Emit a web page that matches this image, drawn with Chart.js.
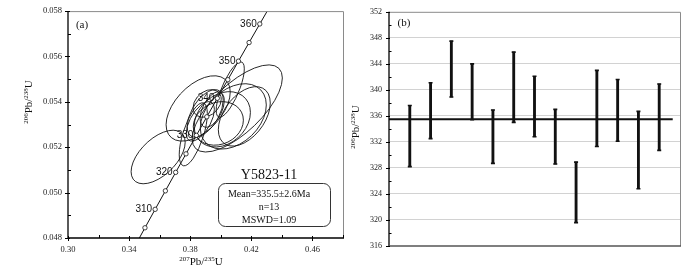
<!DOCTYPE html>
<html>
<head>
<meta charset="utf-8">
<script src="https://cdn.jsdelivr.net/npm/chart.js@4.4.1/dist/chart.umd.min.js"></script>
<style>
  body { margin: 0; background: #fff; }
  #wrap { position: relative; width: 700px; height: 268px; }
  canvas { position: absolute; top: 0; }
  #concordia { left: 0; }
  #ages { left: 350px; }
</style>
</head>
<body>
<div id="wrap">
  <canvas id="concordia" width="350" height="268"></canvas>
  <canvas id="ages" width="350" height="268"></canvas>
</div>
<script>
// (a) concordia curve, points every 5 Ma
const concAges = [300, 305, 310, 315, 320, 325, 330, 335, 340, 345, 350, 355, 360, 365];
const concX = [0.34374, 0.35037, 0.35704, 0.36374, 0.37047, 0.37723, 0.38403, 0.39086, 0.39773, 0.40463, 0.41156, 0.41853, 0.42553, 0.43257];
const concY = [0.047637, 0.048450, 0.049264, 0.050078, 0.050893, 0.051708, 0.052524, 0.053341, 0.054158, 0.054976, 0.055794, 0.056614, 0.057433, 0.058254];
const concLabelAges = [310, 320, 330, 340, 350, 360];

// (a) analysed spots: 207Pb/235U, 206Pb/238U, errors and error correlation
const spotX   = [0.3590, 0.3852, 0.4108, 0.4062, 0.4082, 0.4010, 0.3898, 0.3866, 0.3944, 0.3820, 0.3984, 0.3911, 0.4154];
const spotSX  = [0.0177, 0.0210, 0.0295, 0.0092, 0.0216, 0.0184, 0.0118, 0.0092, 0.0079, 0.0092, 0.0164, 0.0092, 0.0170];
const spotY   = [0.05157, 0.05371, 0.05371, 0.05454, 0.05336, 0.05323, 0.05349, 0.05314, 0.05366, 0.05257, 0.05305, 0.05393, 0.05336];
const spotSY  = [0.00118, 0.00144, 0.00192, 0.00122, 0.00144, 0.00122, 0.00105, 0.00087, 0.00078, 0.00139, 0.00096, 0.00061, 0.00131];
const spotRho = [0.55, 0.5, 0.7, 0.75, 0.35, 0.25, 0.55, 0.6, 0.5, 0.65, 0.15, 0.3, 0.45];

const xTicksA = [0.30, 0.32, 0.34, 0.36, 0.38, 0.40, 0.42, 0.44, 0.46, 0.48];
const xTickLabelsA = ['0.30', '', '0.34', '', '0.38', '', '0.42', '', '0.46', ''];
const yTicksA = [0.048, 0.049, 0.050, 0.051, 0.052, 0.053, 0.054, 0.055, 0.056, 0.057, 0.058];
const yTickLabelsA = ['0.048', '', '0.050', '', '0.052', '', '0.054', '', '0.056', '', '0.058'];

const sampleName = 'Y5823-11';
const resultLines = ['Mean=335.5\u00b12.6Ma', 'n=13', 'MSWD=1.09'];

// (b) 206Pb/238U ages, 1 sigma ranges
const spotNo  = [1, 2, 3, 4, 5, 6, 7, 8, 9, 10, 11, 12, 13];
const ageHigh = [337.6, 341.1, 347.5, 344.0, 336.9, 345.8, 342.1, 337.0, 328.9, 343.0, 341.6, 336.7, 340.9];
const ageLow  = [328.2, 332.5, 338.9, 335.4, 328.7, 335.0, 332.8, 328.6, 319.6, 331.3, 332.1, 324.8, 330.7];
const meanAge = 335.5;
const meanSpan = [0, 13.65];

const yTicksB = [316, 318, 320, 322, 324, 326, 328, 330, 332, 334, 336, 338, 340, 342, 344, 346, 348, 350, 352];
const yTickLabelsB = ['316', '', '320', '', '324', '', '328', '', '332', '', '336', '', '340', '', '344', '', '348', '', '352'];

const serif = '"Liberation Serif", "Times New Roman", serif';
const sans = '"Liberation Sans", Arial, sans-serif';

// text with raised small numbers, e.g. 206Pb/238U
function drawRich(ctx, parts, x, y, angle) {
  ctx.save();
  ctx.translate(x, y);
  ctx.rotate(angle);
  ctx.fillStyle = '#111';
  ctx.textBaseline = 'alphabetic';
  const big = '11px ' + serif, small = '7px ' + serif;
  let w = 0;
  parts.forEach(p => { ctx.font = p[1] ? small : big; w += ctx.measureText(p[0]).width; });
  let cx = -w / 2;
  parts.forEach(p => {
    ctx.font = p[1] ? small : big;
    ctx.fillText(p[0], cx, p[1] ? 0 : 4);
    cx += ctx.measureText(p[0]).width;
  });
  ctx.restore();
}

function frame(ctx, a, bottomColor) {
  ctx.save();
  ctx.lineWidth = 1;
  ctx.strokeStyle = '#8a8a8a';
  ctx.beginPath();
  ctx.moveTo(a.left, a.top + 0.5); ctx.lineTo(a.right + 0.5, a.top + 0.5); ctx.lineTo(a.right + 0.5, a.bottom);
  ctx.stroke();
  ctx.lineWidth = 1.3;
  ctx.strokeStyle = '#000';
  ctx.beginPath();
  ctx.moveTo(a.left, a.top); ctx.lineTo(a.left, a.bottom);
  ctx.stroke();
  ctx.strokeStyle = bottomColor;
  ctx.beginPath();
  ctx.moveTo(a.left, a.bottom); ctx.lineTo(a.right + 1, a.bottom);
  ctx.stroke();
  ctx.restore();
}

const concordiaDecor = {
  id: 'concordiaDecor',
  beforeDatasetsDraw(chart) {
    const { ctx, chartArea: a, scales: { x, y } } = chart;
    ctx.save();
    ctx.font = '10px ' + sans;
    ctx.fillStyle = '#111';
    ctx.textAlign = 'right';
    ctx.textBaseline = 'middle';
    concLabelAges.forEach(age => {
      const i = concAges.indexOf(age);
      ctx.fillText(String(age), x.getPixelForValue(concX[i]) - 3, y.getPixelForValue(concY[i]));
    });
    ctx.beginPath();
    ctx.rect(a.left, a.top, a.right - a.left, a.bottom - a.top);
    ctx.clip();
    ctx.strokeStyle = '#111';
    ctx.lineWidth = 0.9;
    spotX.forEach((v, i) => {
      const px = x.getPixelForValue(v), py = y.getPixelForValue(spotY[i]);
      const kx = x.getPixelForValue(v + spotSX[i]) - px;
      const ky = py - y.getPixelForValue(spotY[i] + spotSY[i]);
      const r = spotRho[i];
      ctx.save();
      ctx.translate(px, py);
      ctx.transform(kx, -ky * r, 0, -ky * Math.sqrt(1 - r * r), 0, 0);
      ctx.beginPath();
      ctx.arc(0, 0, 1, 0, Math.PI * 2);
      ctx.restore();
      ctx.stroke();
    });
    ctx.restore();
  },
  afterDraw(chart) {
    const { ctx, chartArea: a, scales: { x, y } } = chart;
    frame(ctx, a, '#000');
    ctx.save();
    ctx.strokeStyle = '#000';
    ctx.lineWidth = 1;
    y.ticks.forEach((t, i) => {
      const py = Math.round(y.getPixelForValue(t.value)) + 0.5;
      ctx.beginPath();
      if (i % 2 === 0) { ctx.moveTo(a.left - 3, py); ctx.lineTo(a.left + 2, py); }
      else { ctx.moveTo(a.left, py); ctx.lineTo(a.left + 3, py); }
      ctx.stroke();
    });
    x.ticks.forEach((t, i) => {
      const px = Math.round(x.getPixelForValue(t.value)) + 0.5;
      ctx.beginPath();
      if (i % 2 === 0) { ctx.moveTo(px, a.bottom - 2); ctx.lineTo(px, a.bottom + 3); }
      else { ctx.moveTo(px, a.bottom - 3); ctx.lineTo(px, a.bottom); }
      ctx.stroke();
    });
    // panel letter, sample name and result box
    ctx.fillStyle = '#111';
    ctx.textAlign = 'center';
    ctx.textBaseline = 'middle';
    ctx.font = '11px ' + serif;
    ctx.fillText('(a)', a.left + 14, a.top + 14);
    ctx.font = '14px ' + serif;
    ctx.fillText(sampleName, 269, 175);
    ctx.strokeStyle = '#333';
    ctx.lineWidth = 1;
    ctx.beginPath();
    ctx.roundRect(218.5, 183.5, 112, 43, 7);
    ctx.stroke();
    ctx.font = '10px ' + serif;
    [194, 207.5, 220].forEach((ty, i) => ctx.fillText(resultLines[i], 269, ty));
    ctx.restore();
    drawRich(ctx, [['207', true], ['Pb/', false], ['235', true], ['U', false]], 201, 261, 0);
    drawRich(ctx, [['206', true], ['Pb/', false], ['238', true], ['U', false]], 28, 102, -Math.PI / 2);
  }
};

new Chart(document.getElementById('concordia'), {
  type: 'scatter',
  data: {
    datasets: [{
      type: 'line',
      data: concX.map((v, i) => ({ x: v, y: concY[i] })),
      borderColor: '#111',
      borderWidth: 1,
      tension: 0,
      pointRadius: concAges.map(a => (a >= 305 && a <= 360 ? 2.2 : 0)),
      pointBackgroundColor: '#fff',
      pointBorderColor: '#111',
      pointBorderWidth: 0.8
    }]
  },
  options: {
    responsive: false,
    animation: false,
    layout: { padding: { top: 9, right: 7, left: 0, bottom: 0 } },
    plugins: { legend: { display: false }, tooltip: { enabled: false } },
    scales: {
      x: {
        type: 'linear', min: 0.30, max: 0.48,
        grid: { display: false, drawTicks: false },
        border: { display: false },
        afterBuildTicks: s => { s.ticks = xTicksA.map(v => ({ value: v })); },
        afterFit: s => { s.height = 30; },
        ticks: { autoSkip: false, maxRotation: 0, padding: 7, color: '#222', font: { family: serif, size: 8.5 },
                 callback: (v, i) => xTickLabelsA[i] }
      },
      y: {
        type: 'linear', min: 0.048, max: 0.058,
        grid: { display: false, drawTicks: false },
        border: { display: false },
        afterBuildTicks: s => { s.ticks = yTicksA.map(v => ({ value: v })); },
        afterFit: s => { s.width = 68; },
        ticks: { autoSkip: false, padding: 6, color: '#222', font: { family: serif, size: 8.5 },
                 callback: (v, i) => yTickLabelsA[i] }
      }
    }
  },
  plugins: [concordiaDecor]
});

const agesDecor = {
  id: 'agesDecor',
  afterDraw(chart) {
    const { ctx, chartArea: a, scales: { y } } = chart;
    frame(ctx, a, '#555');
    ctx.save();
    ctx.strokeStyle = '#000';
    ctx.lineWidth = 1;
    y.ticks.forEach((t, i) => {
      const py = Math.round(y.getPixelForValue(t.value)) + 0.5;
      ctx.beginPath();
      if (i % 2 === 0) { ctx.moveTo(a.left - 3, py); ctx.lineTo(a.left + 1, py); }
      else { ctx.moveTo(a.left, py); ctx.lineTo(a.left + 2.5, py); }
      ctx.stroke();
    });
    ctx.fillStyle = '#111';
    ctx.textAlign = 'center';
    ctx.textBaseline = 'middle';
    ctx.font = '11px ' + serif;
    ctx.fillText('(b)', a.left + 15, a.top + 11);
    ctx.restore();
    drawRich(ctx, [['206', true], ['Pb/', false], ['238', true], ['U', false]], 5, 127, -Math.PI / 2);
  }
};

new Chart(document.getElementById('ages'), {
  type: 'bar',
  data: {
    datasets: [
      {
        type: 'line',
        data: meanSpan.map(v => ({ x: v, y: meanAge })),
        borderColor: '#111',
        borderWidth: 2,
        pointRadius: 0
      },
      {
        data: spotNo.map((n, i) => ({ x: n, y: [ageLow[i], ageHigh[i]] })),
        backgroundColor: '#111',
        borderWidth: 0,
        barThickness: 2.2
      },
      {
        type: 'scatter',
        data: spotNo.map((n, i) => ({ x: n, y: ageHigh[i] })).concat(spotNo.map((n, i) => ({ x: n, y: ageLow[i] }))),
        pointStyle: 'line',
        pointRadius: 2,
        borderColor: '#111',
        borderWidth: 1.6
      }
    ]
  },
  options: {
    responsive: false,
    animation: false,
    layout: { padding: { top: 4, right: 20, left: 0, bottom: 22 } },
    plugins: { legend: { display: false }, tooltip: { enabled: false } },
    scales: {
      x: { type: 'linear', min: 0, max: 14, offset: false, display: false },
      y: {
        type: 'linear', min: 316, max: 352,
        border: { display: false },
        grid: {
          drawTicks: false,
          lineWidth: 1,
          color: c => (c.index % 2 === 0 && c.index > 0 && c.index < yTicksB.length - 1 ? '#d2d2d2' : 'rgba(0,0,0,0)')
        },
        afterBuildTicks: s => { s.ticks = yTicksB.map(v => ({ value: v })); },
        afterFit: s => { s.width = 39; },
        ticks: { autoSkip: false, padding: 7, color: '#222', font: { family: serif, size: 8 },
                 callback: (v, i) => yTickLabelsB[i] }
      }
    }
  },
  plugins: [agesDecor]
});
</script>
</body>
</html>
